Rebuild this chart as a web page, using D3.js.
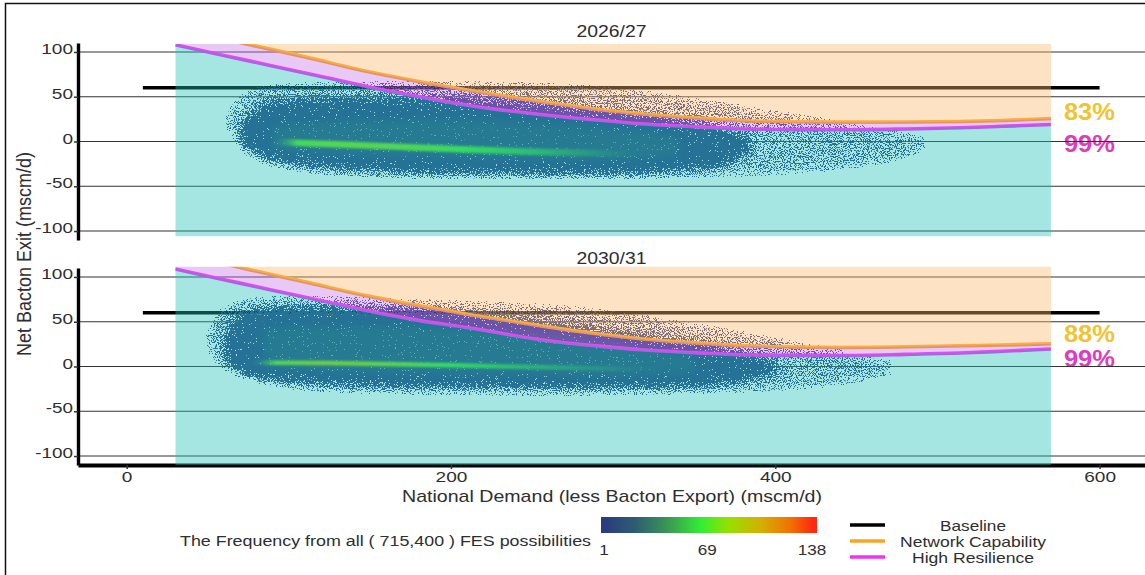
<!DOCTYPE html>
<html><head><meta charset="utf-8">
<script src="https://cdn.jsdelivr.net/npm/d3@7"></script>
<style>
html,body{margin:0;padding:0;background:#fff;}
svg{display:block;font-family:"Liberation Sans",Arial,Helvetica,sans-serif;}
</style></head><body>
<svg id="chart" width="1145" height="575"></svg>
<script>
// ---------------- data ----------------
const panelTitles = ["2026/27", "2030/31"];
const xTicks = [0, 200, 400, 600];
const yTicks = [-100, -50, 0, 50, 100];
const baselineLevel = 60;
const baselineSpan = [10, 600];
const demandSpan = [30, 570];            // demand range covered by the shaded regions
const regionY2026 = [-106, 109];
const regionY2030 = [-110, 111.5];

// Network Capability boundary  [demand, net exit]
const capability2026 = [[30,127],[73,109.3],[110,94.5],[150,77.5],[180,67],[212,57],[255,44.7],[290,36],[317,31],[350,26.5],[378,23.5],[410,22],[440,21.6],[480,21.8],[514,22.4],[540,23.5],[570,25.6]];
const capability2030 = [[30,128],[73,109.3],[110,94.5],[150,78.3],[180,68],[212,57.9],[255,45.5],[290,36.5],[317,31],[350,26.5],[378,23.5],[410,21.8],[440,21.3],[480,22],[514,23.2],[540,24],[570,25.4]];
// High Resilience boundary
const resilience2026 = [[30,108],[60,96.1],[88.5,85],[120,72.6],[150,60.7],[180,50.2],[212,40],[255,30.2],[290,24],[317,19.8],[350,16.5],[378,14.2],[410,13.3],[440,13.1],[480,14],[514,15.3],[540,17],[570,19]];
const resilience2030 = [[30,108.8],[60,97],[88.5,85.8],[120,73.5],[150,61.6],[180,51.5],[212,43],[255,29.9],[290,23],[317,18.7],[350,15.5],[378,13.1],[410,12.4],[440,12.3],[480,13.5],[514,15],[540,17],[570,19.5]];

// Frequency cloud envelopes [demand, low, high]
const sparse2026 = [[61,18,26],[66,0,44],[73,-16,57],[86,-27,63],[110,-36,66],[150,-40,67],[200,-42,67],[250,-42,66],[300,-42,61],[340,-41,52],[380,-39,40],[420,-35,29],[450,-30,20],[475,-22,12],[492,-10,4]];
const dense2026  = [[71,2,20],[77,-10,34],[86,-17,42],[100,-24,46],[130,-30,47],[170,-33,48],[210,-35,46],[250,-35,42],[290,-35,34],[320,-34,28],[345,-32,22],[362,-28,16],[375,-20,8],[385,-10,0]];
const core2026   = [[90,-8,18],[130,-14,24],[200,-18,24],[260,-20,20],[320,-20,12],[340,-16,5]];
const ridge2026  = [[92,-0.5,25],[105,-1.5,72],[130,-3,78],[170,-6,76],[210,-9,68],[250,-11.5,52],[290,-13,30],[320,-14,10]];

const sparse2030 = [[49,22,34],[54,5,57],[62,-6,71],[76,-17,77],[100,-27,79],[150,-30,77],[200,-32,73],[250,-32,71],[300,-32,63],[340,-31,51],[380,-29,39],[420,-25,26],[450,-19,15],[472,-8,6]];
const dense2030  = [[61,10,30],[67,-3,55],[76,-10,62],[90,-14,64],[120,-19,65],[160,-21,64],[200,-22,60],[250,-22,50],[300,-22,38],[340,-22,28],[365,-20,20],[385,-14,12],[400,-5,4]];
const core2030   = [[85,0,42],[120,-6,46],[200,-8,44],[280,-10,34],[330,-10,20],[350,-6,10]];
const ridge2030  = [[78,4,25],[92,4.3,76],[120,4,88],[160,3,80],[200,1.5,68],[250,-0.8,48],[300,-2.3,26],[330,-3,10]];

const sparseFreq = 1, denseFreq = 3, coreFreq = 20;

const shareLabels2026 = [{text:"83%", y:33, key:"capability"}, {text:"99%", y:-1.7, key:"resilience"}];
const shareLabels2030 = [{text:"88%", y:37.4, key:"capability"}, {text:"99%", y:8.9, key:"resilience"}];

const freqStops  = [1, 21.5, 42, 65, 83, 104, 124, 138];
const freqColors = ["#2a3b80","#2d5d72","#3a9456","#33ee33","#96e000","#d4b000","#f27000","#ff2a10"];
const legendTicks = [1, 69, 138];
const legendItems = [
  {label:"Baseline", key:"baseline"},
  {label:"Network Capability", key:"capability"},
  {label:"High Resilience", key:"resilience"}
];

// ---------------- styling ----------------
const lineColor = {baseline:"#000000", capability:"#f5a623", resilience:"#ee33f5"};
const textColor = {capability:"#f2c230", resilience:"#dd3dbb"};
const shade = {low:"#20c0b9", mid:"#c575e6", high:"#fab96b", opacity:0.4};
const ink = "#2e2e2e";

const W = 1145, H = 575;
const svg = d3.select("#chart");
const defs = svg.append("defs");
const color = d3.scaleLinear().domain(freqStops).range(freqColors).interpolate(d3.interpolateRgb);
const x = d3.scaleLinear().domain([-30, 628]).range([78, 1145]);

// speckle filter: turns soft-edged fills into a grainy point cloud
const grain = defs.append("filter").attr("id","grain")
  .attr("filterUnits","userSpaceOnUse").attr("x",0).attr("y",0).attr("width",W).attr("height",H)
  .attr("color-interpolation-filters","sRGB");
grain.append("feTurbulence").attr("type","fractalNoise").attr("baseFrequency",0.85).attr("numOctaves",2).attr("seed",7).attr("result","noise");
grain.append("feColorMatrix").attr("in","noise").attr("type","matrix")
  .attr("values","0 0 0 0 0  0 0 0 0 0  0 0 0 0 0  2.2 0 0 0 -0.6").attr("result","n");
grain.append("feGaussianBlur").attr("in","SourceAlpha").attr("stdDeviation",5).attr("result","ba");
grain.append("feComposite").attr("in","ba").attr("in2","n").attr("operator","arithmetic")
  .attr("k2",1).attr("k3",-1).attr("k4",0.5).attr("result","diff");
grain.append("feComponentTransfer").attr("in","diff").attr("result","mask")
  .append("feFuncA").attr("type","linear").attr("slope",40).attr("intercept",-20);
grain.append("feColorMatrix").attr("in","SourceGraphic").attr("type","matrix")
  .attr("values","1 0 0 0 0  0 1 0 0 0  0 0 1 0 0  0 0 0 40 0").attr("result","solid");
grain.append("feComposite").attr("in","solid").attr("in2","mask").attr("operator","in");

defs.append("filter").attr("id","soft").attr("x","-10%").attr("y","-50%").attr("width","120%").attr("height","200%")
  .append("feGaussianBlur").attr("stdDeviation",3);
defs.append("filter").attr("id","glow").attr("x","-10%").attr("y","-100%").attr("width","120%").attr("height","300%")
  .append("feGaussianBlur").attr("stdDeviation",0.9);

function addText(g, px, py, str, o) {
  const t = g.append("text").attr("x", px).attr("y", py).text(str)
    .attr("font-size", o.size).attr("fill", o.fill || ink)
    .attr("text-anchor", o.anchor || "start");
  if (o.width) t.attr("textLength", o.width).attr("lengthAdjust", "spacingAndGlyphs");
  if (o.weight) t.attr("font-weight", o.weight);
  return t;
}

const panels = [
  {title: panelTitles[0], yRange:[240,43], region:regionY2026, cap:capability2026, res:resilience2026,
   sparse:sparse2026, dense:dense2026, core:core2026, ridge:ridge2026, shares:shareLabels2026, titleY:37, bottom:false, ridgeW:6.5},
  {title: panelTitles[1], yRange:[465,268], region:regionY2030, cap:capability2030, res:resilience2030,
   sparse:sparse2030, dense:dense2030, core:core2030, ridge:ridge2030, shares:shareLabels2030, titleY:263.5, bottom:true, ridgeW:4.5}
];

panels.forEach((p, i) => {
  const y = d3.scaleLinear().domain([-110, 110]).range(p.yRange);
  const g = svg.append("g");
  const clipId = "region" + i;
  defs.append("clipPath").attr("id", clipId).append("rect")
    .attr("x", x(demandSpan[0])).attr("width", x(demandSpan[1]) - x(demandSpan[0]))
    .attr("y", y(p.region[1])).attr("height", y(p.region[0]) - y(p.region[1]));

  // share labels beside the curve ends
  p.shares.forEach(s => {
    addText(g, x(demandSpan[1] + 8), y(s.y), s.text, {size:24, weight:"bold", fill:textColor[s.key], width:51})
      .attr("dominant-baseline","central");
  });

  // horizontal grid at the y ticks
  g.append("g").selectAll("line").data(yTicks).join("line")
    .attr("x1", x.range()[0]).attr("x2", x.range()[1])
    .attr("y1", d => y(d)).attr("y2", d => y(d))
    .attr("stroke", "#333").attr("stroke-width", 1.1);

  // baseline
  g.append("line").attr("x1", x(baselineSpan[0])).attr("x2", x(baselineSpan[1]))
    .attr("y1", y(baselineLevel)).attr("y2", y(baselineLevel))
    .attr("stroke", lineColor.baseline).attr("stroke-width", 3.5);

  // frequency cloud
  const band = d3.area().x(d => x(d[0])).y0(d => y(d[1])).y1(d => y(d[2])).curve(d3.curveBasis);
  const cloud = g.append("g").attr("filter", "url(#grain)");
  cloud.append("path").attr("d", band(p.sparse)).attr("fill", color(sparseFreq)).attr("fill-opacity", 0.45);
  cloud.append("path").attr("d", band(p.dense)).attr("fill", color(denseFreq));
  g.append("path").attr("d", band(p.core)).attr("fill", color(coreFreq)).attr("opacity", 0.5).attr("filter", "url(#soft)");

  // high-frequency ridge
  const gradId = "ridgeGrad" + i;
  const x0 = x(p.ridge[0][0]), x1 = x(p.ridge[p.ridge.length - 1][0]);
  const grad = defs.append("linearGradient").attr("id", gradId)
    .attr("gradientUnits", "userSpaceOnUse").attr("x1", x0).attr("x2", x1).attr("y1", 0).attr("y2", 0);
  p.ridge.forEach((d, k) => {
    grad.append("stop").attr("offset", (x(d[0]) - x0) / (x1 - x0))
      .attr("stop-color", color(d[2]))
      .attr("stop-opacity", k === 0 || k === p.ridge.length - 1 ? 0.2 : 1);
  });
  g.append("path").attr("d", d3.line().x(d => x(d[0])).y(d => y(d[1])).curve(d3.curveBasis)(p.ridge))
    .attr("fill", "none").attr("stroke", `url(#${gradId})`).attr("stroke-width", p.ridgeW)
    .attr("stroke-linecap", "round").attr("filter", "url(#glow)");

  // capability / resilience curves
  const line = d3.line().x(d => x(d[0])).y(d => y(d[1])).curve(d3.curveMonotoneX);
  const curves = g.append("g").attr("clip-path", `url(#${clipId})`);
  curves.append("path").attr("d", line(p.cap)).attr("fill", "none")
    .attr("stroke", lineColor.capability).attr("stroke-width", 3.6);
  curves.append("path").attr("d", line(p.res)).attr("fill", "none")
    .attr("stroke", lineColor.resilience).attr("stroke-width", 3.6);

  // x axis on the lower panel
  if (p.bottom) {
    const ax = g.append("g").attr("transform", `translate(0,${y(-110)})`)
      .call(d3.axisBottom(x).tickValues(xTicks).tickFormat(d => String(d)).tickSize(4).tickSizeOuter(0));
    ax.select(".domain").attr("stroke", "#000").attr("stroke-width", 4);
    ax.selectAll(".tick line").attr("stroke", "#333").attr("stroke-width", 1.5);
    ax.selectAll(".tick text").attr("font-size", 15).attr("fill", ink).attr("y", 17).attr("dy", 0)
      .attr("font-family", null)
      .attr("textLength", d => String(d).length * 10.6).attr("lengthAdjust", "spacingAndGlyphs");
  }

  // translucent decision regions
  const top = p.region[1], bot = p.region[0];
  const shadeG = g.append("g").attr("clip-path", `url(#${clipId})`).attr("opacity", shade.opacity);
  shadeG.append("path").attr("fill", shade.low)
    .attr("d", line(p.res) + `L${x(demandSpan[1])},${y(bot)}L${x(demandSpan[0])},${y(bot)}Z`);
  shadeG.append("path").attr("fill", shade.mid)
    .attr("d", line(p.cap) + "L" + line(p.res.slice().reverse()).slice(1) + "Z");
  shadeG.append("path").attr("fill", shade.high)
    .attr("d", line(p.cap) + `L${x(demandSpan[1])},${y(top) - 20}L${x(demandSpan[0])},${y(top) - 20}Z`);

  // y axis
  const ay = g.append("g").attr("transform", `translate(${x.range()[0]},0)`)
    .call(d3.axisLeft(y).tickValues(yTicks).tickFormat(d => String(d)).tickSize(4).tickSizeOuter(0));
  ay.select(".domain").attr("stroke", "#000").attr("stroke-width", 3.4);
  ay.selectAll(".tick line").attr("stroke", "#333").attr("stroke-width", 1.5);
  ay.selectAll(".tick text").attr("font-size", 15).attr("fill", ink).attr("font-family", null)
    .attr("x", -5).attr("dy", "0.1em")
    .attr("textLength", d => String(Math.abs(d)).length * 10.6 + (d < 0 ? 6 : 0))
    .attr("lengthAdjust", "spacingAndGlyphs");

  // panel title
  addText(svg, (x.range()[0] + x.range()[1]) / 2, p.titleY, p.title, {size:17, anchor:"middle", width:70});
});

// axis titles
addText(svg, 612, 502, "National Demand (less Bacton Export) (mscm/d)", {size:17, anchor:"middle", width:420});
addText(svg, 0, 0, "Net Bacton Exit (mscm/d)", {size:18, anchor:"middle", width:204})
  .attr("transform", "translate(31,254) rotate(-90) scale(1,1.15)");

// frequency colour bar
const barX = [601, 817], barY = 517, barH = 16;
const lx = d3.scaleLinear().domain([1, 138]).range([604, 812]);
const lg = defs.append("linearGradient").attr("id", "freqBar")
  .attr("gradientUnits", "userSpaceOnUse").attr("x1", lx(1)).attr("x2", lx(138)).attr("y1", 0).attr("y2", 0);
freqStops.forEach((f, k) => lg.append("stop").attr("offset", (f - 1) / 137).attr("stop-color", freqColors[k]));
svg.append("rect").attr("x", barX[0]).attr("y", barY).attr("width", barX[1] - barX[0]).attr("height", barH)
  .attr("fill", "url(#freqBar)");
legendTicks.forEach(t => addText(svg, lx(t), 555, String(t), {size:15, anchor:"middle", width:String(t).length * 9.5}));
addText(svg, 591, 546, "The Frequency from all ( 715,400 ) FES possibilities", {size:15.5, anchor:"end", width:411});

// line legend
const legendY = [525, 541, 557];
const legendW = [66, 146, 122];
legendItems.forEach((it, k) => {
  svg.append("line").attr("x1", 850).attr("x2", 885).attr("y1", legendY[k]).attr("y2", legendY[k])
    .attr("stroke", lineColor[it.key]).attr("stroke-width", 3.5);
  addText(svg, 973, legendY[k] + 5.5, it.label, {size:15, anchor:"middle", width:legendW[k]});
});

// frame edges
svg.append("path").attr("d", "M5.5,575V3.5H1145")
  .attr("fill", "none").attr("stroke", "#111").attr("stroke-width", 1.5);
</script>
</body></html>
